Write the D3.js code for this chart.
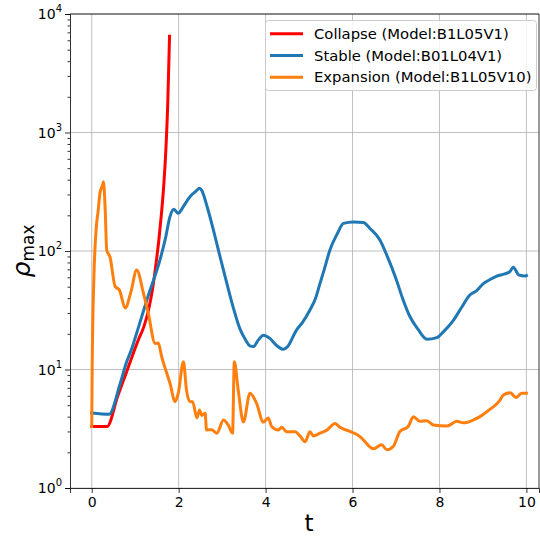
<!DOCTYPE html>
<html>
<head>
<meta charset="utf-8">
<script src="https://cdn.jsdelivr.net/npm/d3@7"></script>
<style>
  body { margin: 0; background: #fff; }
  svg { font-family: "DejaVu Sans", sans-serif; }
</style>
</head>
<body>
<svg id="chart" width="540" height="536"></svg>
<script>
// data (t, rho_max)
var collapseT   = [0, 0.35, 0.6, 0.8, 1.07, 1.2, 1.3, 1.4, 1.5, 1.55, 1.6, 1.65, 1.7, 1.75, 1.79];
var collapseRho = [3.3, 3.3, 6.0, 9.5, 17.7, 23, 31, 48, 90, 130, 200, 330, 650, 1800, 6500];

var stableT   = [0, 0.4, 0.65, 0.8, 0.92, 1.11, 1.3, 1.57, 1.7, 1.8, 1.89, 1.99, 2.1, 2.26, 2.4, 2.48, 2.53, 2.65, 2.8, 2.95, 3.11, 3.26, 3.41, 3.55, 3.64, 3.72, 3.83, 3.95, 4.1, 4.25, 4.41, 4.5, 4.71, 4.85, 5.02, 5.15, 5.25, 5.35, 5.48, 5.65, 5.79, 6.02, 6.25, 6.4, 6.63, 6.8, 7.01, 7.15, 7.32, 7.5, 7.71, 7.94, 8.1, 8.32, 8.5, 8.7, 8.85, 9.01, 9.15, 9.32, 9.5, 9.62, 9.7, 9.82, 9.97, 10];
var stableRho = [4.3, 4.2, 7.5, 11.5, 15, 25, 42, 84, 130, 195, 225, 208, 235, 287, 320, 338, 325, 240, 150, 90, 53, 33, 22, 17.5, 15.8, 15.6, 17.7, 19.5, 18.3, 16, 14.8, 15.5, 21.5, 25, 31.8, 40, 53, 70, 102, 140, 171, 176, 174, 155, 124, 90, 57, 40, 28, 22, 18, 18.6, 21, 26, 33, 42.5, 46, 53, 57, 61.5, 64, 67, 73, 63, 61.5, 62];

var expansionT   = [0, 0.01, 0.05, 0.1, 0.15, 0.19, 0.25, 0.27, 0.31, 0.345, 0.42, 0.54, 0.635, 0.77, 0.9, 1.035, 1.19, 1.3, 1.46, 1.53, 1.61, 1.8, 1.92, 1.99, 2.11, 2.18, 2.26, 2.32, 2.42, 2.48, 2.53, 2.61, 2.64, 2.76, 2.88, 3.03, 3.14, 3.24, 3.28, 3.37, 3.49, 3.64, 3.79, 3.95, 4.06, 4.14, 4.29, 4.37, 4.49, 4.68, 4.79, 4.91, 5.02, 5.1, 5.25, 5.41, 5.6, 5.71, 5.94, 6.17, 6.25, 6.48, 6.67, 6.79, 6.94, 7.09, 7.28, 7.4, 7.55, 7.71, 7.86, 8.17, 8.4, 8.55, 8.78, 8.93, 9.16, 9.39, 9.47, 9.63, 9.76, 9.89, 10];
var expansionRho = [3.3, 10, 60, 150, 222, 309, 360, 384, 222, 102, 89, 50, 47, 33, 45, 69, 44, 30, 16.6, 16.7, 12.8, 7.65, 5.35, 6.3, 11.6, 6.7, 5.35, 5.35, 3.9, 4.55, 4.1, 4.27, 3.09, 3.1, 2.9, 3.75, 3.4, 2.9, 11.6, 6.7, 3.6, 6.3, 5.2, 3.6, 3.9, 3.3, 3.08, 3.25, 2.98, 2.98, 2.75, 2.46, 2.98, 2.75, 2.9, 3.08, 3.5, 3.25, 3.0, 2.72, 2.54, 2.14, 2.32, 2.1, 2.25, 3.0, 3.3, 4.0, 3.65, 3.7, 3.4, 3.33, 3.65, 3.55, 3.75, 4.0, 4.6, 5.5, 6.1, 6.35, 5.8, 6.3, 6.3];

var xTicks = [0, 2, 4, 6, 8, 10];
var yTicks = [1, 10, 100, 1000, 10000];
var legendLabels = ["Collapse (Model:B1L05V1)", "Stable (Model:B01L04V1)", "Expansion (Model:B1L05V10)"];
var colors = ["#ff0000", "#1f77b4", "#ff7f0e"];

var series = [
  {t: collapseT, r: collapseRho},
  {t: stableT, r: stableRho},
  {t: expansionT, r: expansionRho}
];

var pLeft = 70, pRight = 539, pTop = 14, pBottom = 488;
var svg = d3.select("#chart");

var x = d3.scaleLinear().domain([-0.5, 10.29]).range([pLeft, pRight]);
var y = d3.scaleLog().domain([1, 10000]).range([pBottom, pTop]);

// grid
svg.append("g").selectAll("line").data(xTicks).enter().append("line")
  .attr("x1", function(d){ return x(d) }).attr("x2", function(d){ return x(d) })
  .attr("y1", pTop).attr("y2", pBottom)
  .attr("stroke", "#b0b0b0").attr("stroke-width", 0.8);
svg.append("g").selectAll("line").data(yTicks).enter().append("line")
  .attr("x1", pLeft).attr("x2", pRight)
  .attr("y1", function(d){ return y(d) }).attr("y2", function(d){ return y(d) })
  .attr("stroke", "#b0b0b0").attr("stroke-width", 0.8);

// curves
svg.append("clipPath").attr("id", "clip").append("rect")
  .attr("x", pLeft).attr("y", pTop).attr("width", pRight - pLeft).attr("height", pBottom - pTop);

var line = d3.line()
  .curve(d3.curveMonotoneX)
  .x(function(d){ return x(d[0]) })
  .y(function(d){ return y(d[1]) });

var plot = svg.append("g").attr("clip-path", "url(#clip)");
series.forEach(function(s, i){
  var pts = s.t.map(function(t, j){ return [t, s.r[j]] });
  plot.append("path")
    .attr("d", line(pts))
    .attr("fill", "none")
    .attr("stroke", colors[i])
    .attr("stroke-width", 3)
    .attr("stroke-linejoin", "round")
    .attr("stroke-linecap", "square");
});

// axes
var xAxis = d3.axisBottom(x).tickValues(xTicks).tickSize(5).tickPadding(4);
var gx = svg.append("g").attr("transform", "translate(0," + pBottom + ")").call(xAxis);
gx.selectAll("text").attr("font-size", 14).attr("fill", "#000").attr("font-family", "DejaVu Sans");

var minor = [];
for (var p = 0; p < 4; p++) for (var k = 2; k < 10; k++) minor.push(k * Math.pow(10, p));
var yMinor = d3.axisLeft(y).tickValues(minor).tickSize(2.5).tickFormat("");
svg.append("g").attr("transform", "translate(" + pLeft + ",0)").call(yMinor)
  .select(".domain").remove();

var yAxis = d3.axisLeft(y).tickValues(yTicks).tickSize(5).tickFormat("");
svg.append("g").attr("transform", "translate(" + pLeft + ",0)").call(yAxis);

svg.selectAll(".tick line").attr("stroke", "#000").attr("stroke-width", 0.8);
svg.selectAll(".domain").attr("stroke", "#000").attr("stroke-width", 0.8);

// y tick labels as 10^n
var yl = svg.append("g").selectAll("text").data(yTicks).enter().append("text")
  .attr("x", 62).attr("y", function(d){ return y(d) + 5 })
  .attr("text-anchor", "end")
  .attr("font-size", 14);
yl.append("tspan").text("10");
yl.append("tspan").attr("dy", -7).attr("font-size", 10).text(function(d){ return Math.round(Math.log10(d)) });

// frame
svg.append("line").attr("x1", pLeft).attr("x2", pRight).attr("y1", pTop).attr("y2", pTop)
  .attr("stroke", "#000").attr("stroke-width", 0.8);
svg.append("line").attr("x1", pRight).attr("x2", pRight).attr("y1", pTop).attr("y2", pBottom)
  .attr("stroke", "#000").attr("stroke-width", 0.8);

// labels
svg.append("text").attr("x", x(5)).attr("y", 531).attr("text-anchor", "middle")
  .attr("font-size", 23).text("t");

var ylab = svg.append("text")
  .attr("transform", "translate(30," + ((pTop + pBottom) / 2) + ") rotate(-90)")
  .attr("text-anchor", "middle")
  .attr("font-size", 25);
ylab.append("tspan").attr("font-style", "italic").text("ρ");
ylab.append("tspan").attr("font-size", 17).attr("dy", 4).text("max");

// legend
var lg = svg.append("g");
lg.append("rect").attr("x", 265.5).attr("y", 20.5).attr("width", 271).attr("height", 70)
  .attr("rx", 3).attr("fill", "#fff").attr("fill-opacity", 0.8)
  .attr("stroke", "#cccccc").attr("stroke-width", 1);
legendLabels.forEach(function(lab, i){
  var yy = 33.7 + i * 21.8;
  lg.append("line").attr("x1", 270).attr("x2", 303).attr("y1", yy).attr("y2", yy)
    .attr("stroke", colors[i]).attr("stroke-width", 3);
  lg.append("text").attr("x", 314).attr("y", yy + 5).attr("font-size", 14.8).text(lab);
});
</script>
</body>
</html>
